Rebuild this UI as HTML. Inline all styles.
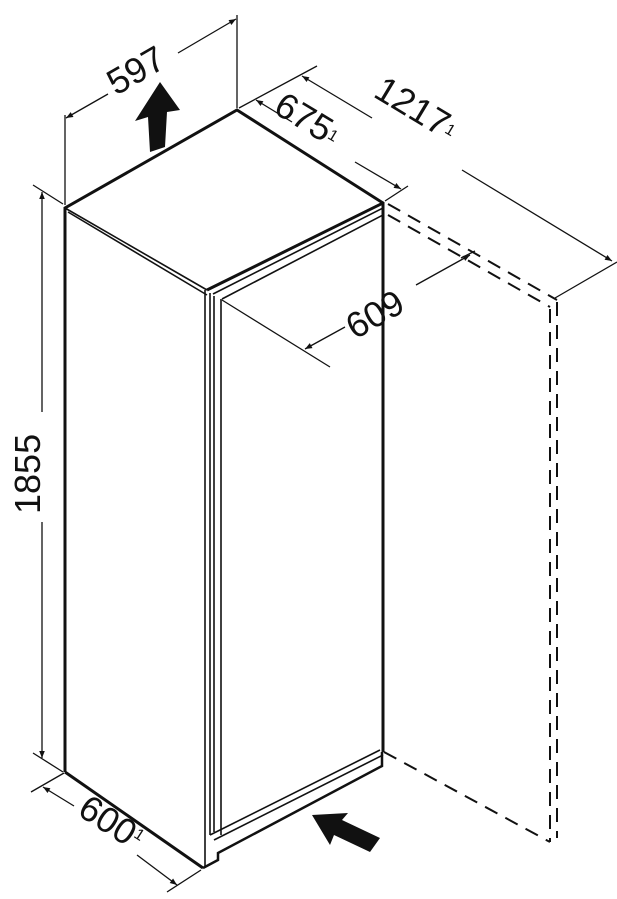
<!DOCTYPE html>
<html><head><meta charset="utf-8"><style>
html,body{margin:0;padding:0;background:#fff}
svg{display:block}
text{font-family:"Liberation Sans",sans-serif;fill:#111}
</style></head><body>
<svg width="617" height="899" viewBox="0 0 617 899" xmlns="http://www.w3.org/2000/svg">
<defs>
<marker id="ar" viewBox="0 0 10 10" refX="10" refY="5" markerWidth="9" markerHeight="7" orient="auto-start-reverse" markerUnits="userSpaceOnUse">
<path d="M0,1 L10,5 L0,9 z" fill="#111"/></marker>
</defs>
<g stroke="#111" fill="none">
<g stroke-width="2" stroke-dasharray="14,9">
<line x1="388" y1="204" x2="557" y2="300"/>
<line x1="388" y1="215" x2="550" y2="307"/>
<line x1="557" y1="302" x2="557" y2="838"/>
<line x1="550" y1="309" x2="550" y2="842"/>
<line x1="384" y1="752" x2="550" y2="842"/>
</g>
<g stroke-width="3" stroke-linejoin="miter">
<polyline points="65,772 65,208 237,110 383,203 383,752"/>
<polyline points="65,772 203,868"/>
<line x1="207" y1="290" x2="383" y2="203"/>
</g>
<g stroke-width="1.6">
<line x1="65" y1="208" x2="207" y2="290"/>
<line x1="68" y1="212" x2="207" y2="295"/>
<line x1="213" y1="294" x2="383" y2="208"/>
<line x1="222" y1="299" x2="383" y2="215"/>
<line x1="205" y1="290" x2="205" y2="868"/>
<line x1="210" y1="293" x2="210" y2="835"/>
<line x1="214" y1="296" x2="214" y2="832"/>
<line x1="221" y1="299" x2="221" y2="835"/>
<line x1="210" y1="835" x2="380" y2="750"/>
<line x1="214" y1="840" x2="383" y2="755"/>
</g>
<g stroke-width="2.5">
<polyline points="203,868 218,860 218,853 382,766 382,752"/>
</g>
<g stroke-width="1.3">
<line x1="65" y1="115" x2="65" y2="205"/>
<line x1="237" y1="15" x2="237" y2="108"/>
<line x1="66" y1="118" x2="108" y2="94" marker-start="url(#ar)"/>
<line x1="178" y1="53" x2="236" y2="19" marker-end="url(#ar)"/>
<line x1="239" y1="108" x2="317" y2="66"/>
<line x1="385" y1="201" x2="408" y2="186"/>
<line x1="555" y1="298" x2="617" y2="262"/>
<line x1="256" y1="100" x2="292" y2="122" marker-start="url(#ar)"/>
<line x1="355" y1="162" x2="401" y2="189" marker-end="url(#ar)"/>
<line x1="302" y1="76" x2="372" y2="118" marker-start="url(#ar)"/>
<line x1="462" y1="170" x2="612" y2="261" marker-end="url(#ar)"/>
<line x1="222" y1="300" x2="330" y2="367"/>
<line x1="305" y1="349" x2="345" y2="327" marker-start="url(#ar)"/>
<line x1="416" y1="285" x2="470" y2="255" marker-end="url(#ar)"/>
<line x1="461" y1="258" x2="475" y2="251"/>
<line x1="33" y1="185" x2="63" y2="204"/>
<line x1="42" y1="192" x2="42" y2="412" marker-start="url(#ar)"/>
<line x1="42" y1="522" x2="42" y2="758" marker-end="url(#ar)"/>
<line x1="33" y1="753" x2="63" y2="772"/>
<line x1="31" y1="792" x2="64" y2="773"/>
<line x1="167" y1="892" x2="201" y2="870"/>
<line x1="43" y1="787" x2="74" y2="806" marker-start="url(#ar)"/>
<line x1="137" y1="855" x2="177" y2="885" marker-end="url(#ar)"/>
</g>
</g>
<polygon points="160,82 180,110 167,112 165,147 150,152 148,117 135,121" fill="#111"/>
<polygon points="312,815 348,813 342,820 380,838 370,852 334,835 330,845" fill="#111"/>
<text font-size="36" transform="translate(116,96) rotate(-30)">597</text>
<text font-size="36" transform="translate(272,112) rotate(31)">675<tspan font-size="16" dy="-6">1</tspan></text>
<text font-size="36" transform="translate(372,96) rotate(31)">1217<tspan font-size="16" dy="-6">1</tspan></text>
<text font-size="36" transform="translate(355,340) rotate(-30)">609</text>
<text font-size="36" transform="translate(40,514) rotate(-90)">1855</text>
<text font-size="36" transform="translate(76,814) rotate(33)">600<tspan font-size="16" dy="-12">1</tspan></text>
</svg>
</body></html>
